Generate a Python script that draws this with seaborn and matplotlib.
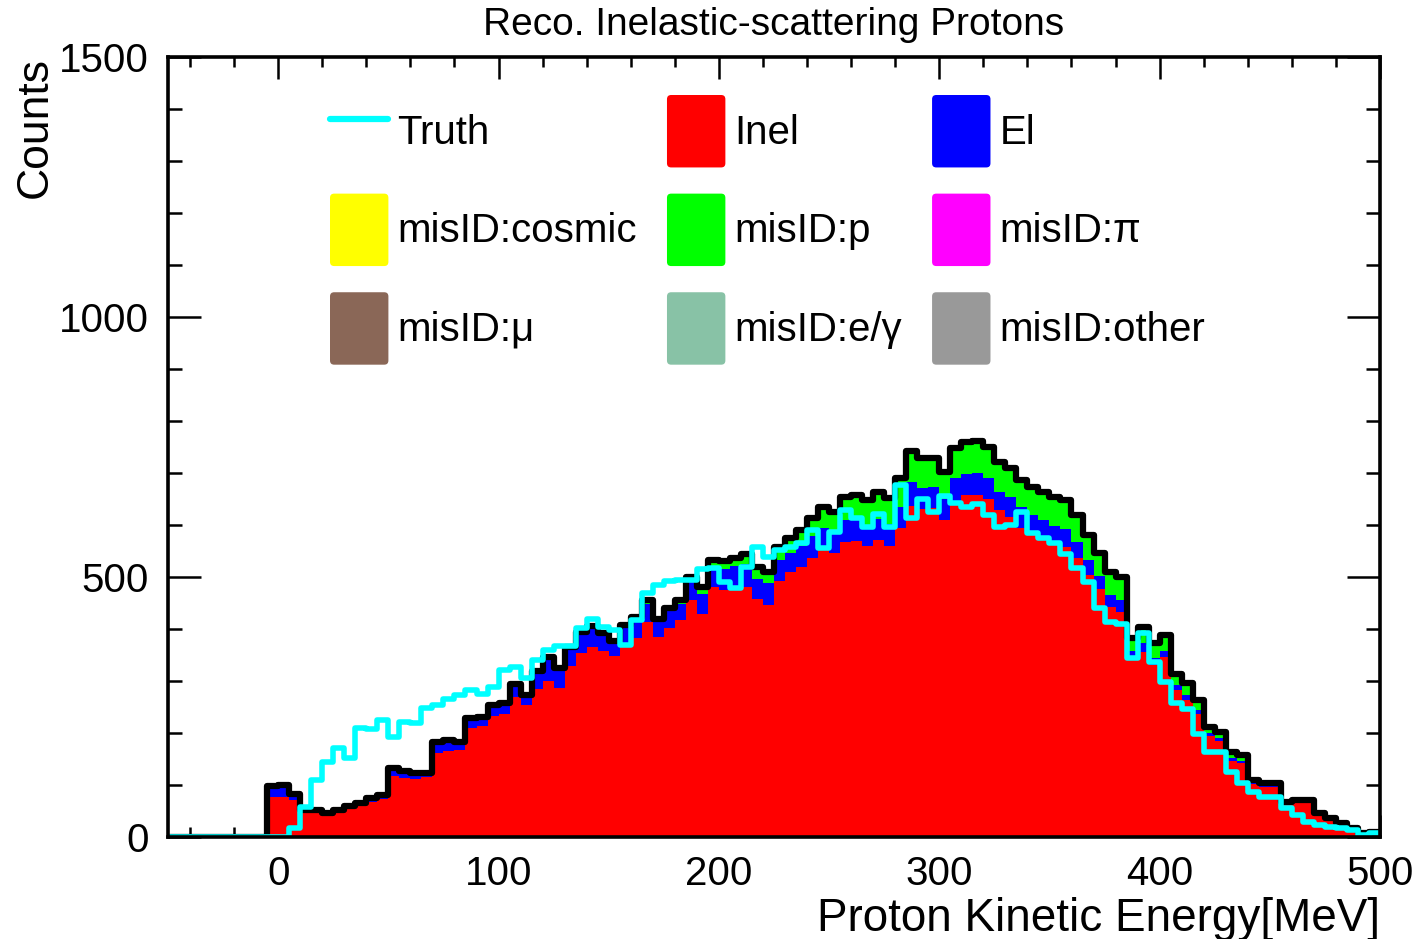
import numpy as np
import pandas as pd
import matplotlib
matplotlib.use("Agg")
import matplotlib.pyplot as plt
import seaborn as sns
from matplotlib.lines import Line2D
from matplotlib.patches import Patch, FancyBboxPatch
from matplotlib.legend_handler import HandlerPatch
from matplotlib.ticker import MultipleLocator

sns.set_theme(style="white")
plt.rcParams["font.family"] = ["Liberation Sans", "DejaVu Sans"]
plt.rcParams["text.color"] = "black"
plt.rcParams["axes.labelcolor"] = "black"
plt.rcParams["xtick.color"] = "black"
plt.rcParams["ytick.color"] = "black"

# 5 MeV bins from -50 to 500 MeV (110 bins)
bin_width = 5
bin_range = (-50, 500)
bin_centers = np.arange(-50, 500, 5) + 2.5

inel = [0] * 9 + [
    76, 76, 71, 48, 47, 44, 48, 54, 59, 67, 73,
    118, 113, 112, 115, 161, 166, 168, 209, 213, 232,
    237, 269, 253, 284, 300, 286, 328, 354, 366, 358,
    348, 372, 383, 413, 385, 402, 418, 455, 428, 481,
    475, 483, 480, 457, 446, 493, 509, 520, 536, 555,
    547, 567, 569, 560, 571, 560, 595, 637, 631, 632,
    610, 645, 658, 658, 650, 629, 616, 595, 581, 574,
    564, 558, 537, 504, 476, 443, 433, 343, 356, 330,
    346, 283, 264, 237, 194, 184, 146, 142, 102, 96,
    96, 63, 67, 67, 44, 34, 26, 17, 7, 10]

el = [0] * 9 + [
    22, 24, 12, 4, 5, 3, 4, 6, 7, 8, 7,
    15, 14, 12, 8, 22, 20, 15, 20, 18, 22,
    20, 25, 20, 35, 45, 38, 35, 38, 35, 30,
    25, 32, 35, 35, 30, 32, 30, 35, 40, 38,
    40, 38, 45, 40, 42, 40, 38, 40, 42, 40,
    40, 42, 40, 38, 40, 42, 40, 45, 40, 42,
    40, 45, 40, 42, 40, 35, 38, 40, 38, 35,
    35, 35, 30, 28, 25, 22, 22, 15, 18, 15,
    12, 10, 10, 8, 6, 6, 5, 5, 3, 3,
    3, 2, 2, 2, 1, 1, 0, 0, 0, 0]

misid_p = [0] * 9 + [
    0, 0, 0, 0, 0, 0, 0, 0, 0, 0, 0,
    0, 0, 0, 0, 0, 0, 0, 0, 0, 0,
    0, 0, 0, 1, 2, 1, 2, 3, 4, 4,
    3, 4, 6, 8, 5, 6, 8, 10, 12, 14,
    15, 16, 20, 22, 22, 25, 28, 30, 35, 40,
    38, 45, 48, 50, 52, 50, 55, 60, 58, 55,
    52, 58, 62, 62, 60, 58, 55, 52, 55, 55,
    55, 55, 52, 48, 45, 45, 45, 25, 30, 28,
    30, 20, 22, 18, 12, 12, 12, 10, 5, 4,
    4, 3, 2, 2, 1, 1, 0, 0, 0, 0]

misid_cosmic = [0] * 110
misid_pi = [0] * 110
misid_mu = [0] * 110
misid_egamma = [0] * 110
misid_other = [0] * 110

truth = [0] * 11 + [
    17, 58, 110, 145, 171, 152, 209, 207, 225,
    192, 221, 219, 248, 254, 265, 273, 283, 275, 289,
    322, 327, 305, 340, 360, 367, 367, 401, 419, 404,
    398, 369, 417, 470, 484, 493, 494, 494, 515, 517,
    490, 478, 520, 558, 539, 552, 558, 565, 590, 555,
    587, 629, 613, 596, 622, 596, 677, 613, 650, 625,
    655, 642, 635, 640, 619, 596, 600, 625, 585, 575,
    565, 545, 517, 490, 440, 413, 410, 345, 392, 337,
    298, 257, 247, 199, 164, 164, 125, 103, 87, 77,
    77, 55, 42, 29, 24, 19, 17, 13, 4, 7]

stack_order = ["Inel", "El", "misID:p", "misID:cosmic", "misID:π",
               "misID:μ", "misID:e/γ", "misID:other"]
series = {
    "Inel": inel, "El": el, "misID:p": misid_p, "misID:cosmic": misid_cosmic,
    "misID:π": misid_pi, "misID:μ": misid_mu, "misID:e/γ": misid_egamma,
    "misID:other": misid_other,
}
colors = {
    "Inel": "#FF0000", "El": "#0000FF", "misID:p": "#00FF00",
    "misID:cosmic": "#FFFF00", "misID:π": "#FF00FF", "misID:μ": "#8A6757",
    "misID:e/γ": "#88C2A6", "misID:other": "#999999",
}
truth_color = "#00FFFF"

df = pd.concat(
    [pd.DataFrame({"E": bin_centers, "N": series[c], "cat": c}) for c in stack_order],
    ignore_index=True)
tot_df = df.groupby("E", sort=True, as_index=False)["N"].sum()
truth_df = pd.DataFrame({"E": bin_centers, "N": truth})

fig = plt.figure(figsize=(14.2, 9.39), dpi=100)
ax = fig.add_axes([168 / 1420, 1 - 837 / 939, 1212 / 1420, 780 / 939])

sns.histplot(data=df, x="E", weights="N", hue="cat", hue_order=stack_order[::-1],
             binwidth=bin_width, binrange=bin_range, multiple="stack",
             element="step", fill=True, alpha=1, linewidth=0, palette=colors,
             legend=False, ax=ax)
sns.histplot(data=tot_df, x="E", weights="N", binwidth=bin_width, binrange=bin_range,
             element="step", fill=False, color="black", linewidth=4.5, ax=ax)
sns.histplot(data=truth_df, x="E", weights="N", binwidth=bin_width, binrange=bin_range,
             element="step", fill=False, color=truth_color, linewidth=4, ax=ax)

ax.set_xlim(-50, 500)
ax.set_ylim(0, 1500)
ax.xaxis.set_major_locator(MultipleLocator(100))
ax.xaxis.set_minor_locator(MultipleLocator(20))
ax.yaxis.set_major_locator(MultipleLocator(500))
ax.yaxis.set_minor_locator(MultipleLocator(100))
ax.tick_params(which="both", direction="in", top=True, right=True,
               bottom=True, left=True, colors="black", width=1.8)
ax.tick_params(axis="x", which="major", length=16, pad=13, labelsize=29)
ax.tick_params(axis="x", which="minor", length=7)
ax.tick_params(axis="y", which="major", length=24, pad=14, labelsize=29)
ax.tick_params(axis="y", which="minor", length=10)
for s in ax.spines.values():
    s.set_visible(True)
    s.set_color("black")
    s.set_linewidth(2.6)

ax.set_ylabel("Counts", fontsize=32, loc="top", color="black")
ax.yaxis.set_label_coords(-0.093, 1.0)
ax.set_xlabel("Proton Kinetic Energy[MeV]", fontsize=33, loc="right", color="black")
ax.xaxis.set_label_coords(1.0, -0.077)

fig.text(774 / 1420, 1 - 25 / 939, "Reco. Inelastic-scattering Protons",
         ha="center", va="center", fontsize=28, color="black")


class RoundBoxHandler(HandlerPatch):
    def create_artists(self, legend, orig_handle, xdescent, ydescent,
                       width, height, fontsize, trans):
        p = FancyBboxPatch((-xdescent, -ydescent), width, height,
                           boxstyle="round,pad=0,rounding_size=3",
                           facecolor=orig_handle.get_facecolor(),
                           edgecolor="none", transform=trans)
        return [p]


legend_cols = [["Truth", "misID:cosmic", "misID:μ"],
               ["Inel", "misID:p", "misID:e/γ"],
               ["El", "misID:π", "misID:other"]]
handles, labels = [], []
for col in legend_cols:
    for name in col:
        if name == "Truth":
            handles.append(Line2D([0], [0], color=truth_color, lw=4.5))
        else:
            handles.append(Patch(facecolor=colors[name], edgecolor="none"))
        labels.append(name)
leg = ax.legend(handles, labels, ncol=3, loc="upper left",
                bbox_to_anchor=(330 / 1420, 1 - 95 / 939), bbox_transform=fig.transFigure,
                frameon=False, fontsize=29, handlelength=1.45, handleheight=2.39,
                handletextpad=0.22, columnspacing=0.75, labelspacing=0.65,
                borderpad=0, borderaxespad=0,
                handler_map={Patch: RoundBoxHandler()})
for t in leg.get_texts():
    t.set_color("black")

fig.savefig("out.png", dpi=100)
